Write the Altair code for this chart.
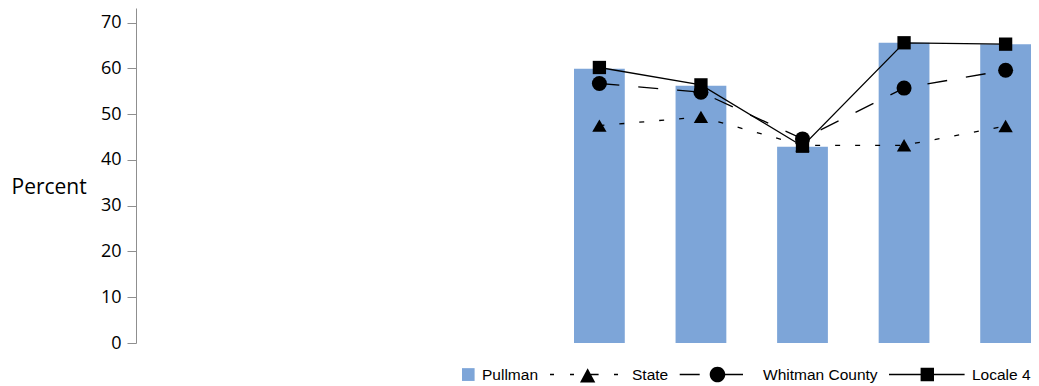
import altair as alt
import pandas as pd

# Category slots of the x scale (the first four hold no data in the chart)
categories = ["C1", "C2", "C3", "C4", "C5", "C6", "C7", "C8", "C9"]
shown = categories[4:]

series_names = ["Pullman", "State", "Whitman County", "Locale 4"]
pullman = [59.9, 56.2, 42.9, 65.6, 65.3]
state = [47.5, 49.4, 43.2, 43.2, 47.4]
whitman = [56.7, 54.8, 44.6, 55.7, 59.6]
locale4 = [60.2, 56.4, 43.0, 65.6, 65.3]
y_ticks = [0, 10, 20, 30, 40, 50, 60, 70]

rows = []
for name, vals in zip(series_names, [pullman, state, whitman, locale4]):
    for c, v in zip(shown, vals):
        rows.append({"category": c, "series": name, "value": v})
df = pd.DataFrame(rows)

BAR_BLUE = "#7DA5D8"
AXIS_GREY = "#8f8f8f"

# Legend glyphs (unit box -1..1)
P_PATH = "M0.675,-0.16H0.99V0.16H0.675Z"
S_PATH = ("M-0.875,-0.018H-0.775V0.018H-0.875Z"
          "M-0.375,-0.018H-0.275V0.018H-0.375Z"
          "M0.125,-0.018H0.34V0.018H0.125Z"
          "M0.725,-0.018H0.825V0.018H0.725Z"
          "M0.066,-0.16L0.2575,0.2L-0.125,0.2Z")
W_PATH = ("M-0.9075,-0.018H-0.4075V0.018H-0.9075Z"
          "M0.225,-0.018H0.675V0.018H0.225Z"
          "M0.2325,0C0.2325,0.1077,0.1452,0.195,0.0375,0.195"
          "C-0.0702,0.195,-0.1575,0.1077,-0.1575,0"
          "C-0.1575,-0.1077,-0.0702,-0.195,0.0375,-0.195"
          "C0.1452,-0.195,0.2325,-0.1077,0.2325,0Z")
L_PATH = ("M-0.9,-0.018H-0.11V0.018H-0.9Z"
          "M-0.11,-0.1675H0.225V0.1675H-0.11Z"
          "M0.225,-0.018H0.99V0.018H0.225Z")

x = alt.X("category:N",
          scale=alt.Scale(domain=categories, paddingInner=0.5, paddingOuter=0.1565, align=1),
          axis=None)
y = alt.Y("value:Q",
          scale=alt.Scale(domain=[0, 73.2], nice=False, zero=True),
          axis=alt.Axis(values=y_ticks, title="Percent", titleAngle=0, titleAlign="left",
                        titleBaseline="alphabetic", titleX=-125, titleY=185,
                        titleFont="Open Sans", titleFontSize=21, titleFontWeight="normal",
                        titleColor="black", labelFont="Open Sans", labelFontSize=18,
                        labelColor="black", labelPadding=6, tickSize=9, tickColor=AXIS_GREY,
                        domainColor=AXIS_GREY, grid=False, tickWidth=1, domainWidth=1))

def make_legend():
    return alt.Legend(title=None, orient="none", legendX=259, legendY=326.3,
                      direction="horizontal", columns=4, symbolSize=6400, symbolStrokeWidth=0,
                      symbolOpacity=1, labelOffset=7, columnPadding=7, padding=0,
                      labelFont="Liberation Sans", labelFontSize=15.5, labelColor="black")

color_enc = alt.Color("series:N",
                      scale=alt.Scale(domain=series_names,
                                      range=[BAR_BLUE, "black", "black", "black"]),
                      legend=make_legend())
shape_enc = alt.Shape("series:N",
                      scale=alt.Scale(domain=series_names,
                                      range=[P_PATH, S_PATH, W_PATH, L_PATH]),
                      legend=make_legend())

base = alt.Chart(df)

bars = base.transform_filter("datum.series === 'Pullman'").mark_bar().encode(
    x=x, y=y, color=color_enc)

# layer that only carries the legend glyphs (draws no marks)
legend_layer = base.transform_filter("false").mark_point(filled=True, opacity=1).encode(
    x=x, y=y, color=color_enc, shape=shape_enc)

def line_layer(name, dash, shape, size):
    sub = base.transform_filter(f"datum.series === '{name}'")
    if dash:
        ln = sub.mark_line(color="black", strokeWidth=1.3, strokeDash=dash).encode(x=x, y=y)
    else:
        ln = sub.mark_line(color="black", strokeWidth=1.3).encode(x=x, y=y)
    pt = sub.mark_point(filled=True, color="black", opacity=1, shape=shape, size=size).encode(x=x, y=y)
    return [ln, pt]

layers = [bars, legend_layer]
layers += line_layer("State", [5, 15], "triangle-up", 205)
layers += line_layer("Whitman County", [20, 19], "circle", 225)
layers += line_layer("Locale 4", None, "square", 177)

chart = alt.layer(*layers).properties(
    width=895, height=335,
    background="white",
    autosize=alt.AutoSizeParams(type="none"),
    padding={"left": 128, "top": 0, "right": 0, "bottom": 40},
).configure_view(strokeWidth=0)

chart.save("out.html", embed_options={"renderer": "svg", "actions": False})
